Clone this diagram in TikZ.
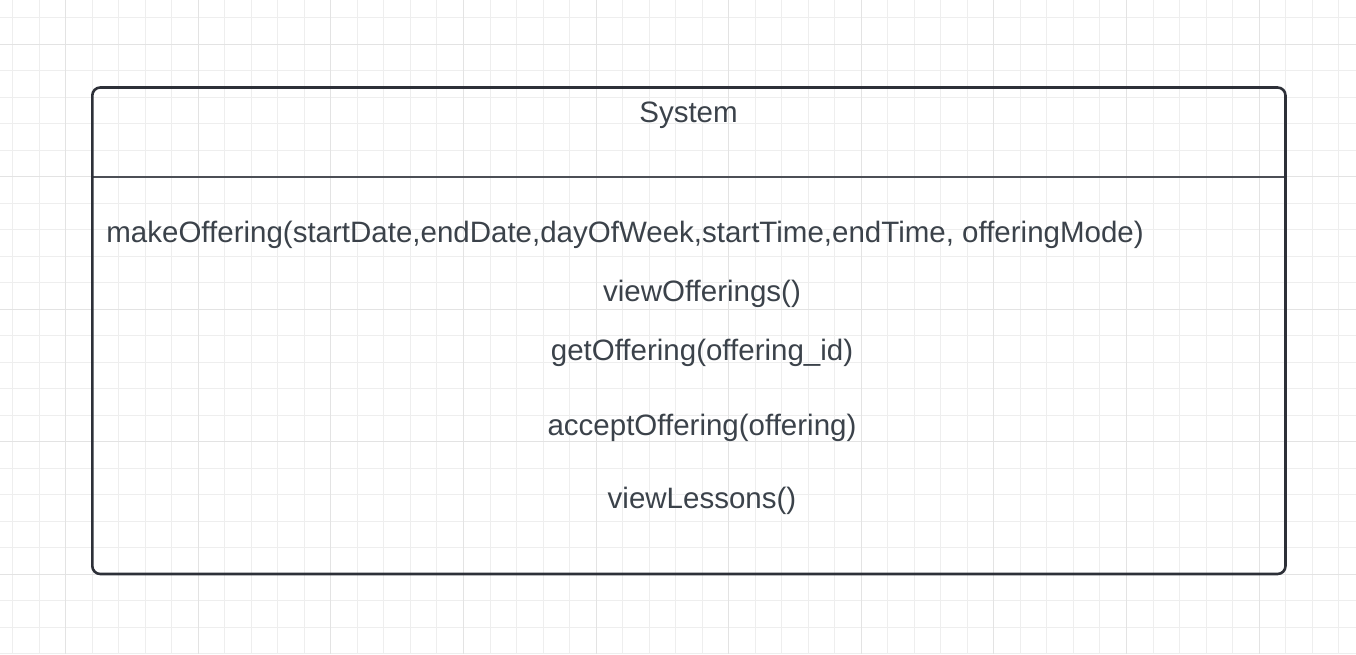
\documentclass[tikz,border=0pt]{standalone}
\usepackage{fontspec}
\setmainfont{Liberation Sans}
\usepackage{tikz}
\definecolor{gridminor}{HTML}{EEEEEE}
\definecolor{gridmajor}{HTML}{E3E3E3}
\definecolor{boxline}{HTML}{2D3038}
\definecolor{textgray}{HTML}{3B424A}
\tikzstyle{minorline} = [gridminor, line width=0.5pt]
\tikzstyle{majorline} = [gridmajor, line width=0.5pt]
\tikzstyle{classbox} = [draw=boxline, line width=1.3pt, rounded corners=4pt]
\tikzstyle{divider} = [draw=boxline!85, line width=0.6pt]
\tikzstyle{method} = [inner sep=0pt, text=textgray, font=\fontsize{14.75}{17}\selectfont]

\begin{document}
\begin{tikzpicture}[x=0.5pt, y=-0.5pt]
\useasboundingbox (0,0) rectangle (1356,654);

% Grid
\foreach \i in {0,...,50} {\draw[minorline] ({12.66+26.52*\i},0) -- ({12.66+26.52*\i},654);}
\foreach \j in {0,...,24} {\draw[minorline] (0,{17.5+26.52*\j}) -- (1356,{17.5+26.52*\j});}
\foreach \i in {0,...,9} {\draw[majorline] ({65.7+132.6*\i},0) -- ({65.7+132.6*\i},654);}
\foreach \j in {0,...,4} {\draw[majorline] (0,{44+132.6*\j}) -- (1356,{44+132.6*\j});}

% Class box
\coordinate (topleft) at (92.3,87.5);
\coordinate (bottomright) at (1285.5,574);
\coordinate (divleft) at (92.3,177);
\coordinate (divright) at (1285.5,177);
\draw [divider] (divleft) -- (divright);
\draw [classbox] (topleft) rectangle (bottomright);

% Texts
\node (title) [method, anchor=base] at (688.5,122) {System};
\node (make) [method, anchor=base west] at (106,242) {makeOffering(startDate,endDate,dayOfWeek,startTime,endTime, offeringMode)};
\node (view) [method, anchor=base] at (702,301) {viewOfferings()};
\node (get) [method, anchor=base] at (702,360) {getOffering(offering\_id)};
\node (accept) [method, anchor=base] at (702,435) {acceptOffering(offering)};
\node (lessons) [method, anchor=base] at (702,508) {viewLessons()};

\end{tikzpicture}
\end{document}
